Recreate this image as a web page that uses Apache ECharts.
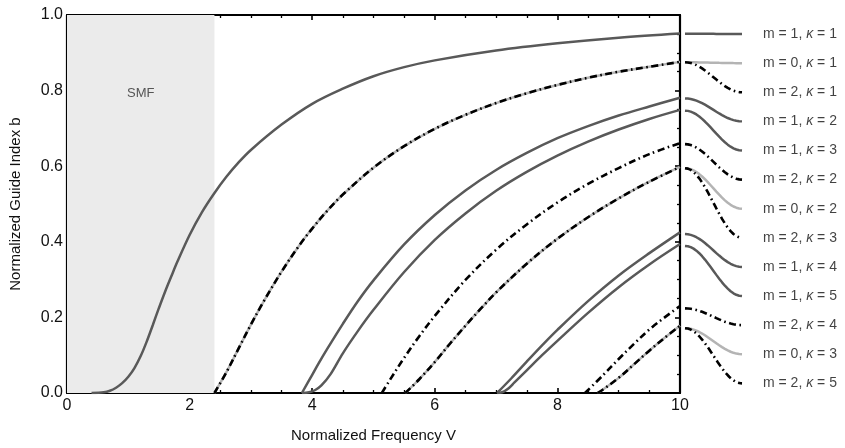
<!DOCTYPE html>
<html><head><meta charset="utf-8">
<script src="https://cdn.jsdelivr.net/npm/echarts@6/dist/echarts.min.js"></script>
<style>html,body{margin:0;padding:0;background:#fff}#c{width:845px;height:448px}</style>
</head><body><div id="c"></div>
<script>
// ---- data ----
const xTicks = [0, 2, 4, 6, 8, 10];
const yTicks = [0.0, 0.2, 0.4, 0.6, 0.8, 1.0];
const smfCutoff = 2.405;
const lp01 = [[0.4,0],[0.6,0.002],[0.7,0.006],[0.8,0.014],[0.9,0.026],[1.0,0.043],[1.1,0.066],[1.2,0.097],[1.3,0.136],[1.4,0.18],[1.5,0.225],[1.6,0.268],[1.7,0.308],[1.8,0.347],[2.0,0.418],[2.2,0.478],[2.4,0.528],[2.6,0.572],[2.8,0.61],[3.0,0.643],[3.5,0.71],[4.0,0.765],[4.5,0.805],[5.0,0.838],[5.5,0.862],[6.0,0.88],[7.0,0.906],[8.0,0.925],[9.0,0.94],[10,0.951]];
const lp11 = [[2.405,0],[2.6,0.055],[2.8,0.118],[3.0,0.181],[3.2,0.24],[3.5,0.321],[3.8,0.393],[4.0,0.435],[4.25,0.483],[4.5,0.525],[5.0,0.596],[5.5,0.653],[6.0,0.699],[6.5,0.736],[7.0,0.767],[7.5,0.793],[8.0,0.815],[8.5,0.834],[9.0,0.85],[9.5,0.863],[10,0.876]];
const lp21 = [[3.832,0],[4.0,0.048],[4.1,0.077],[4.25,0.118],[4.5,0.183],[4.75,0.244],[5.0,0.298],[5.5,0.393],[6.0,0.471],[6.5,0.536],[7.0,0.59],[7.5,0.635],[8.0,0.674],[8.5,0.706],[9.0,0.734],[9.5,0.758],[10,0.781]];
const lp02 = [[3.832,0],[3.95,0.002],[4.05,0.008],[4.15,0.02],[4.3,0.05],[4.5,0.105],[4.75,0.165],[5.0,0.22],[5.5,0.32],[6.0,0.405],[6.5,0.475],[7.0,0.535],[7.5,0.585],[8.0,0.628],[8.5,0.665],[9.0,0.697],[9.5,0.725],[10,0.749]];
const lp31 = [[5.136,0],[5.25,0.03],[5.5,0.093],[5.75,0.151],[6.0,0.204],[6.5,0.299],[7.0,0.379],[7.5,0.446],[8.0,0.504],[8.5,0.553],[9.0,0.595],[9.5,0.632],[10,0.661]];
const lp12 = [[5.52,0],[5.75,0.037],[6.0,0.082],[6.25,0.131],[6.5,0.178],[6.75,0.223],[7.0,0.266],[7.5,0.342],[8.0,0.408],[8.5,0.465],[9.0,0.515],[9.5,0.559],[10,0.598]];
const lp22 = [[7.016,0],[7.25,0.039],[7.5,0.083],[7.75,0.126],[8.0,0.167],[8.5,0.243],[9.0,0.311],[9.5,0.37],[10,0.425]];
const lp03 = [[7.016,0],[7.1,0.002],[7.2,0.012],[7.3,0.028],[7.5,0.06],[7.75,0.1],[8.0,0.138],[8.5,0.212],[9.0,0.28],[9.5,0.34],[10,0.394]];
const lp32 = [[8.45,0],[8.75,0.048],[9.0,0.09],[9.25,0.13],[9.5,0.168],[9.75,0.2],[10,0.23]];
const lp13 = [[8.654,0],[8.75,0.01],[9.0,0.04],[9.25,0.076],[9.5,0.112],[9.75,0.146],[10,0.178]];

const modeM = [1, 0, 2, 1, 1, 2, 0, 2, 1, 1, 2, 0, 2];
const modeK = [1, 1, 1, 2, 3, 2, 2, 3, 4, 5, 4, 3, 5];
const modeCurve = [lp01, lp11, lp11, lp21, lp02, lp31, lp12, lp12, lp22, lp03, lp32, lp13, lp13];
const modeStyle = ['dark','light','dashdot','dark','dark','dashdot','light','dashdot','dark','dark','dashdot','light','dashdot'];

// ---- layout / style ----
const labelTop = 0.95, labelStep = 0.0764;
const styles = {
  dark:   {color:'#595959', width:2.5, type:'solid', order:1},
  light:  {color:'#b4b4b4', width:2.5, type:'solid', order:0},
  dashdot:{color:'#000000', width:2.6, type:[7,3.5,1.6,3.5], order:2}
};
const FONT = '"Liberation Sans", Arial, sans-serif';

function ease(t){ return (1 - Math.cos(Math.PI * t)) / 2; }

const series = [];
series.push({
  type:'line', xAxisIndex:0, yAxisIndex:0, data:[], silent:true,
  markArea:{silent:true, itemStyle:{color:'#ebebeb'},
    label:{show:true, position:['50%',72], align:'center', verticalAlign:'top', color:'#555', fontSize:13, fontFamily:FONT},
    data:[[{name:'SMF', xAxis:0, yAxis:0},{xAxis:smfCutoff, yAxis:1}]]}
});
const idx = modeM.map((_,i)=>i).sort((a,b)=>styles[modeStyle[a]].order - styles[modeStyle[b]].order || a-b);
idx.forEach(i=>{
  const st = styles[modeStyle[i]];
  const ls = {color:st.color, width:st.width, type:st.type, cap:'butt'};
  series.push({type:'line', xAxisIndex:0, yAxisIndex:0, data:modeCurve[i], showSymbol:false, symbol:'none',
    smooth:0.35, lineStyle:ls, silent:true, z:3+st.order});
  const endB = modeCurve[i][modeCurve[i].length-1][1];
  const slot = labelTop - i*labelStep;
  const pts = [];
  for (let j=0;j<=40;j++){ const t=j/40; pts.push([t, endB + (slot-endB)*ease(t)]); }
  series.push({type:'line', xAxisIndex:2, yAxisIndex:2, data:pts, showSymbol:false, symbol:'none',
    lineStyle:ls, silent:true, z:3+st.order});
});
series.push({type:'scatter', xAxisIndex:2, yAxisIndex:2, symbolSize:0, silent:true,
  data: modeM.map((m,i)=>({value:[1, labelTop - i*labelStep], m:m, k:modeK[i]})),
  label:{show:true, position:'right', distance:21, color:'#111', fontSize:14, fontFamily:FONT,
    formatter:p=>`m = ${p.data.m}, {i|κ} = ${p.data.k}`,
    rich:{i:{fontStyle:'italic', fontSize:14, fontFamily:FONT, color:'#111'}}}
});

const tickCommon = {
  axisLine:{show:true, onZero:false, lineStyle:{color:'#000', width:2.2}},
  axisTick:{show:true, inside:true, length:5, lineStyle:{color:'#000', width:1.6}},
  minorTick:{show:true, splitNumber:4, length:3, lineStyle:{color:'#000', width:1.3}},
  splitLine:{show:false}, minorSplitLine:{show:false}
};
const axLabel = {fontSize:16, color:'#111', fontFamily:FONT};

const option = {
  animation:false,
  grid:[{left:66, top:15, width:614, height:381, containLabel:false},
        {left:685, top:15, width:57, height:381}],
  xAxis:[
    Object.assign({gridIndex:0, type:'value', min:0, max:10, interval:2, position:'bottom',
      name:'Normalized Frequency V', nameLocation:'middle', nameGap:35,
      nameTextStyle:{fontSize:15, color:'#111', fontFamily:FONT},
      axisLabel:Object.assign({margin:5, formatter:v=>xTicks.includes(v)?String(v):''}, axLabel)}, tickCommon),
    Object.assign({gridIndex:0, type:'value', min:0, max:10, interval:2, position:'top', axisLabel:{show:false}}, tickCommon),
    {gridIndex:1, type:'value', min:0, max:1, show:false}
  ],
  yAxis:[
    Object.assign({gridIndex:0, type:'value', min:0, max:1, interval:0.2, position:'left',
      name:'Normalized Guide Index b', nameLocation:'middle', nameGap:44,
      nameTextStyle:{fontSize:15, color:'#111', fontFamily:FONT},
      axisLabel:Object.assign({margin:4, formatter:v=>v.toFixed(1)}, axLabel)}, tickCommon),
    Object.assign({gridIndex:0, type:'value', min:0, max:1, interval:0.2, position:'right', axisLabel:{show:false}}, tickCommon),
    {gridIndex:1, type:'value', min:0, max:1, show:false}
  ],
  series:series
};
const chart = echarts.init(document.getElementById('c'), null, {renderer:'canvas'});
chart.setOption(option);
</script></body></html>
